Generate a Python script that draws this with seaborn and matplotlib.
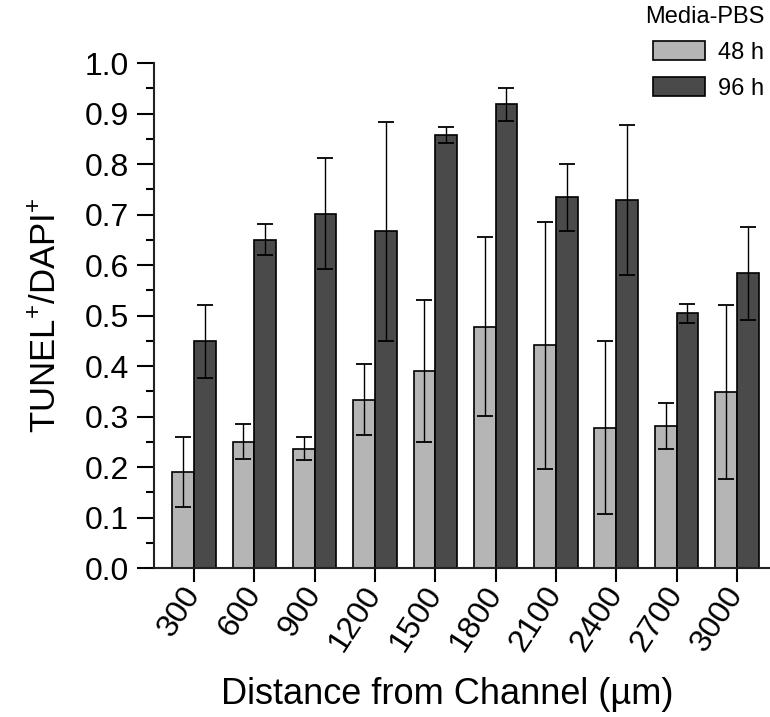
#!/usr/bin/env python3
"""Grouped bar chart: TUNEL+/DAPI+ ratio vs distance from channel (48 h / 96 h)."""

import pandas as pd
import matplotlib
matplotlib.use("Agg")
import matplotlib.pyplot as plt
from matplotlib.ticker import MultipleLocator
import seaborn as sns

# --- data ---
distances = ["300", "600", "900", "1200", "1500", "1800", "2100", "2400", "2700", "3000"]
groups = ["48 h", "96 h"]
mean_48h = [0.190, 0.250, 0.236, 0.333, 0.390, 0.478, 0.441, 0.278, 0.281, 0.348]
err_48h = [0.070, 0.035, 0.023, 0.070, 0.140, 0.177, 0.245, 0.171, 0.046, 0.172]
mean_96h = [0.449, 0.650, 0.702, 0.667, 0.858, 0.918, 0.734, 0.729, 0.504, 0.584]
err_96h = [0.072, 0.031, 0.110, 0.217, 0.016, 0.032, 0.066, 0.148, 0.018, 0.092]
colors = ["#b5b5b5", "#4a4a4a"]

df = pd.DataFrame({
    "Distance": distances * 2,
    "Group": [groups[0]] * len(distances) + [groups[1]] * len(distances),
    "Ratio": mean_48h + mean_96h,
})
errors = [err_48h, err_96h]

sns.set_style("ticks")
plt.rcParams["font.family"] = ["Liberation Sans", "DejaVu Sans"]
plt.rcParams["mathtext.fontset"] = "custom"
plt.rcParams["mathtext.rm"] = "Liberation Sans"
plt.rcParams["text.color"] = "black"
plt.rcParams["axes.labelcolor"] = "black"
plt.rcParams["xtick.color"] = "black"
plt.rcParams["ytick.color"] = "black"

fig = plt.figure(figsize=(7.7, 7.17), dpi=100)
ax = fig.add_axes([0.2, 0.2078, 0.8, 0.7043])

sns.barplot(data=df, x="Distance", y="Ratio", hue="Group", order=distances,
            hue_order=groups, palette=colors, width=0.72, edgecolor="black",
            linewidth=1.2, saturation=1, errorbar=None, ax=ax)

# error bars at the bar centres taken from the drawn bars
for container, err in zip(ax.containers, errors):
    xs = [b.get_x() + b.get_width() / 2 for b in container]
    ys = [b.get_height() for b in container]
    ax.errorbar(xs, ys, yerr=err, fmt="none", ecolor="black",
                elinewidth=1.0, capsize=5.5, capthick=1.3, zorder=5)

ax.set_ylim(0, 1.0)
ax.set_xlim(-0.663, 9.55)
ax.yaxis.set_major_locator(MultipleLocator(0.1))
ax.yaxis.set_minor_locator(MultipleLocator(0.05))
ax.yaxis.set_major_formatter(matplotlib.ticker.FormatStrFormatter("%.1f"))

sns.despine(ax=ax)
for side in ["left", "bottom"]:
    ax.spines[side].set_linewidth(1.5)
    ax.spines[side].set_color("#222222")

ax.tick_params(axis="y", which="major", length=12, width=1.5, labelsize=23, pad=6)
ax.tick_params(axis="y", which="minor", length=6, width=1.5)
ax.tick_params(axis="x", which="major", length=10, width=1.5, labelsize=23, pad=5)
plt.setp(ax.get_xticklabels(), rotation=57, ha="right", va="center",
         rotation_mode="anchor")

ax.set_xlabel("Distance from Channel (µm)", fontsize=26)
ax.xaxis.set_label_coords(0.476, -0.215)
ax.set_ylabel("TUNEL$^{+}$/DAPI$^{+}$", fontsize=25)
ax.yaxis.set_label_coords(-0.15, 0.5)

handles, labels = ax.get_legend_handles_labels()
leg = ax.legend(handles, labels, title="Media-PBS", loc="upper right",
                bbox_to_anchor=(1.0, 1.0), bbox_transform=fig.transFigure,
                frameon=False, fontsize=17, title_fontsize=17,
                handlelength=2.2, handleheight=0.9, handletextpad=0.55,
                labelspacing=0.55, borderaxespad=0.0, borderpad=0.25)
leg._legend_box.align = "right"

fig.savefig("out.png", dpi=100)
